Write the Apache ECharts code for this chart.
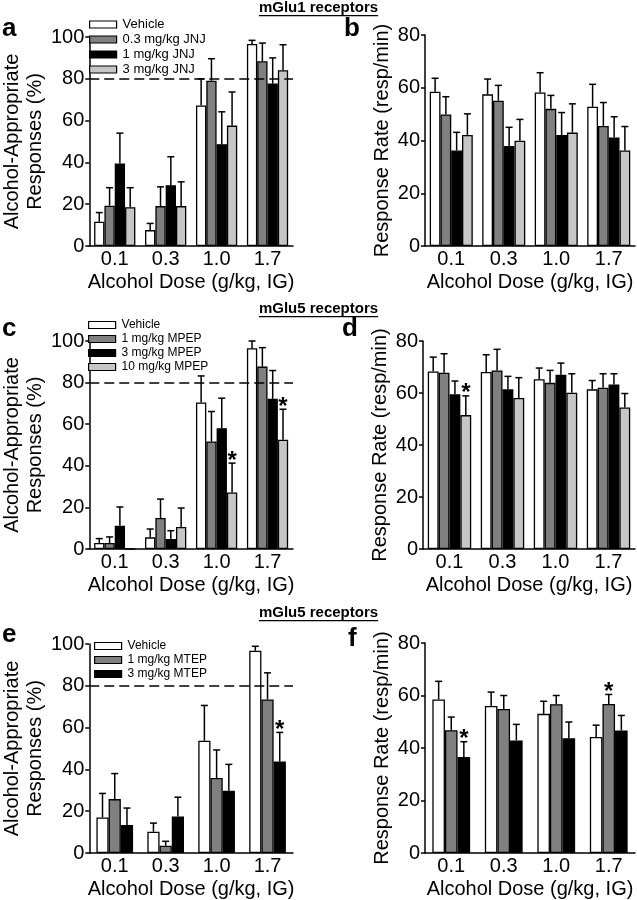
<!DOCTYPE html>
<html>
<head>
<meta charset="utf-8">
<title>Alcohol discrimination - mGlu receptors</title>
<script src="https://cdn.jsdelivr.net/npm/echarts@6/dist/echarts.min.js"></script>
</head>
<body style="margin:0;background:#fff">
<div id="main" style="width:637px;height:900px;"></div>
<script type="text/javascript">
// alcohol dose categories
var doses = ['0.1', '0.3', '1.0', '1.7'];

// panel a - mGlu1, % alcohol-appropriate responses
var aNames = ['Vehicle', '0.3 mg/kg JNJ', '1 mg/kg JNJ', '3 mg/kg JNJ'];
var aVeh = [11.6, 7.6, 67.2, 96.7],   aVehErr = [4.4, 3.2, 12.8, 1.7];
var aJ03 = [19.3, 19.1, 79.1, 88.4],  aJ03Err = [8.6, 9.2, 10.5, 8.7];
var aJ1 = [39.5, 29.1, 48.7, 77.7],   aJ1Err = [14.5, 13.6, 15.5, 12.3];
var aJ3 = [18.6, 19.1, 57.6, 84.1],   aJ3Err = [9.3, 11.6, 16.1, 12.2];

// panel b - mGlu1, response rate
var bVeh = [58.5, 57.5, 58.2, 52.8],  bVehErr = [5.1, 5.8, 7.5, 8.5];
var bJ03 = [49.9, 55.1, 52.0, 45.5],  bJ03Err = [6.7, 5.8, 5.1, 8.9];
var bJ1 = [36.2, 37.9, 42.1, 41.1],   bJ1Err = [6.9, 7.1, 8.5, 7.9];
var bJ3 = [42.1, 39.9, 43.0, 36.2],   bJ3Err = [8.0, 8.1, 10.9, 9.1];

// panel c - mGlu5 (MPEP), % alcohol-appropriate responses
var cNames = ['Vehicle', '1 mg/kg MPEP', '3 mg/kg MPEP', '10 mg/kg MPEP'];
var cVeh = [2.9, 5.6, 70.4, 96.5],    cVehErr = [2.1, 4.0, 12.8, 3.5];
var cM1 = [2.9, 14.9, 51.7, 87.7],    cM1Err = [2.9, 9.1, 14.4, 9.1];
var cM3 = [11.2, 4.8, 58.1, 72.2],    cM3Err = [9.0, 4.0, 14.4, 13.6];
var cM10 = [0, 10.6, 27.2, 52.5],     cM10Err = [0, 9.1, 14.1, 14.7];
var cStars = [null, null, null, [2, 3]];

// panel d - mGlu5 (MPEP), response rate
var dVeh = [68.3, 68.1, 65.3, 61.4],  dVehErr = [5.5, 6.6, 4.3, 3.4];
var dM1 = [67.8, 68.7, 63.9, 62.0],   dM1Err = [7.3, 8.1, 4.8, 5.4];
var dM3 = [59.5, 61.4, 67.0, 63.3],   dM3Err = [5.1, 5.0, 4.5, 4.1];
var dM10 = [51.5, 58.1, 60.1, 54.4],  dM10Err = [7.4, 7.8, 7.3, 5.4];
var dStars = [null, null, null, [0]];

// panel e - mGlu5 (MTEP), % alcohol-appropriate responses
var eNames = ['Vehicle', '1 mg/kg MTEP', '3 mg/kg MTEP'];
var eVeh = [17.0, 10.2, 53.7, 96.8],  eVehErr = [11.5, 4.1, 16.9, 2.1];
var eT1 = [25.8, 3.5, 35.9, 73.5],    eT1Err = [12.2, 2.1, 13.4, 12.7];
var eT3 = [13.4, 17.5, 29.8, 43.8],   eT3Err = [8.1, 9.2, 12.6, 13.9];
var eStars = [null, null, [3]];

// panel f - mGlu5 (MTEP), response rate
var fVeh = [58.5, 56.0, 53.0, 44.2],  fVehErr = [6.9, 5.3, 4.8, 4.5];
var fT1 = [46.8, 54.9, 56.7, 56.8],   fT1Err = [5.0, 5.1, 3.3, 3.6];
var fT3 = [36.6, 42.9, 43.7, 46.7],   fT3Err = [5.8, 6.1, 6.2, 5.7];
var fStars = [null, [3], [0]];

var fills4 = ['#ffffff', '#808080', '#000000', '#c6c6c6'];
var font = 'Liberation Sans, Arial, sans-serif';

var myChart = echarts.init(document.getElementById('main'));

var grids = [
    {left: 81, top: 37, width: 212, height: 209},
    {left: 425, top: 35, width: 210, height: 211},
    {left: 81, top: 341, width: 212, height: 208},
    {left: 423, top: 341, width: 212, height: 208},
    {left: 81, top: 644, width: 212, height: 210},
    {left: 425, top: 643, width: 210, height: 211}
];

var xAxes = [], yAxes = [], series = [];

function addAxes(i, max, name, nameGap) {
    xAxes.push({
        gridIndex: i, type: 'category', data: doses,
        axisLine: {lineStyle: {color: '#000', width: 1.5}},
        axisTick: {show: false},
        axisLabel: {color: '#000', fontSize: 20, fontFamily: font, margin: 3},
        name: 'Alcohol Dose (g/kg, IG)', nameLocation: 'middle', nameGap: 26,
        nameTextStyle: {color: '#000', fontSize: 20, fontFamily: font}
    });
    yAxes.push({
        gridIndex: i, type: 'value', min: 0, max: max, interval: 20,
        splitLine: {show: false},
        axisLine: {show: true, lineStyle: {color: '#000', width: 1.5}},
        axisTick: {show: true, length: 4, lineStyle: {color: '#000', width: 1.5}},
        axisLabel: {color: '#000', fontSize: 20, fontFamily: font, margin: 5},
        name: name, nameLocation: 'middle', nameGap: nameGap, nameRotate: 90,
        nameTextStyle: {color: '#000', fontSize: 20, fontFamily: font, lineHeight: 23}
    });
}

function addPanel(i, names, means, errs, stars, gap, refLine) {
    var n = means.length;
    for (var k = 0; k < n; k++) {
        var s = {
            name: names[k], type: 'bar', xAxisIndex: i, yAxisIndex: i,
            data: means[k], barGap: '0%', barCategoryGap: gap + '%',
            itemStyle: {color: fills4[k], borderColor: '#000', borderWidth: 1.3},
            z: 2
        };
        if (k === 0 && refLine) {
            s.markLine = {
                silent: true, symbol: 'none', label: {show: false},
                lineStyle: {color: '#000', width: 1.6, type: [10, 5]},
                data: [{yAxis: 80}]
            };
        }
        series.push(s);

        var errData = [];
        for (var c = 0; c < means[k].length; c++) {
            var star = stars && stars[k] && stars[k].indexOf(c) >= 0 ? 1 : 0;
            errData.push([c, means[k][c], errs[k][c], star]);
        }
        (function (k) {
            series.push({
                name: 'err', type: 'custom', xAxisIndex: i, yAxisIndex: i,
                z: 3, silent: true,
                data: errData,
                renderItem: function (params, api) {
                    var cat = api.value(0), m = api.value(1), e = api.value(2);
                    var base = api.coord([cat, m]);
                    var top = api.coord([cat, m + e]);
                    var catW = api.size([1, 0])[0];
                    var groupW = catW * (1 - gap / 100);
                    var barW = groupW / n;
                    var x = base[0] - groupW / 2 + (k + 0.5) * barW;
                    var kids = [];
                    if (e > 0) {
                        kids.push({type: 'line', shape: {x1: x, y1: base[1], x2: x, y2: top[1]},
                            style: {stroke: '#000', lineWidth: 1.5}});
                        kids.push({type: 'line', shape: {x1: x - 3.5, y1: top[1], x2: x + 3.5, y2: top[1]},
                            style: {stroke: '#000', lineWidth: 1.5}});
                    }
                    if (api.value(3)) {
                        kids.push({type: 'text', style: {text: '*', x: x, y: top[1] + 10,
                            align: 'center', verticalAlign: 'bottom',
                            font: 'bold 24px ' + font, fill: '#000'}});
                    }
                    return {type: 'group', children: kids};
                }
            });
        })(k);
    }
}

for (var g = 0; g < 6; g++) {
    if (g % 2 === 0) addAxes(g, 100, 'Alcohol-Appropriate\nResponses (%)', 35);
    else addAxes(g, 80, 'Response Rate (resp/min)', 31);
}

addPanel(0, aNames, [aVeh, aJ03, aJ1, aJ3], [aVehErr, aJ03Err, aJ1Err, aJ3Err], null, 19, true);
addPanel(1, aNames, [bVeh, bJ03, bJ1, bJ3], [bVehErr, bJ03Err, bJ1Err, bJ3Err], null, 18, false);
addPanel(2, cNames, [cVeh, cM1, cM3, cM10], [cVehErr, cM1Err, cM3Err, cM10Err], cStars, 19, true);
addPanel(3, cNames, [dVeh, dM1, dM3, dM10], [dVehErr, dM1Err, dM3Err, dM10Err], dStars, 18, false);
addPanel(4, eNames, [eVeh, eT1, eT3], [eVehErr, eT1Err, eT3Err], eStars, 28, true);
addPanel(5, eNames, [fVeh, fT1, fT3], [fVehErr, fT1Err, fT3Err], fStars, 28, false);

function legendAt(names, left, top, size, gapPx) {
    return {
        data: names, orient: 'vertical', left: left, top: top,
        icon: 'rect', itemWidth: 27, itemHeight: 7, itemGap: gapPx,
        selectedMode: false, padding: 0,
        itemStyle: {borderColor: '#000', borderWidth: 1.2},
        textStyle: {color: '#000', fontSize: size, fontFamily: font, padding: [0, 0, 0, 1]}
    };
}

function label(txt, x, y, size) {
    return {type: 'text', left: x, top: y,
        style: {text: txt, font: 'bold ' + size + 'px ' + font, fill: '#000'}};
}

// underlined heading; underline width taken from the text itself
var measure = document.createElement('canvas').getContext('2d');
function heading(txt, y) {
    var f = 'bold 15px ' + font;
    measure.font = f;
    var w = measure.measureText(txt).width;
    return {type: 'group', left: 'center', top: y, children: [
        {type: 'text', style: {text: txt, font: f, fill: '#000'}},
        {type: 'rect', shape: {x: 0, y: 15, width: w, height: 1.3}, style: {fill: '#000'}}
    ]};
}

var option = {
    animation: false,
    backgroundColor: '#fff',
    grid: grids,
    xAxis: xAxes,
    yAxis: yAxes,
    legend: [
        legendAt(aNames, 89, 18, 13, 2),
        legendAt(cNames, 88, 319, 12, 2),
        legendAt(eNames, 94, 640, 12, 2)
    ],
    graphic: [
        heading('mGlu1 receptors', 0),
        heading('mGlu5 receptors', 301),
        heading('mGlu5 receptors', 605),
        label('a', 2, 16, 26),
        label('b', 344, 16, 26),
        label('c', 2, 316, 26),
        label('d', 342, 316, 26),
        label('e', 2, 622, 26),
        label('f', 348, 626, 26)
    ],
    series: series
};

myChart.setOption(option);
</script>
</body>
</html>
